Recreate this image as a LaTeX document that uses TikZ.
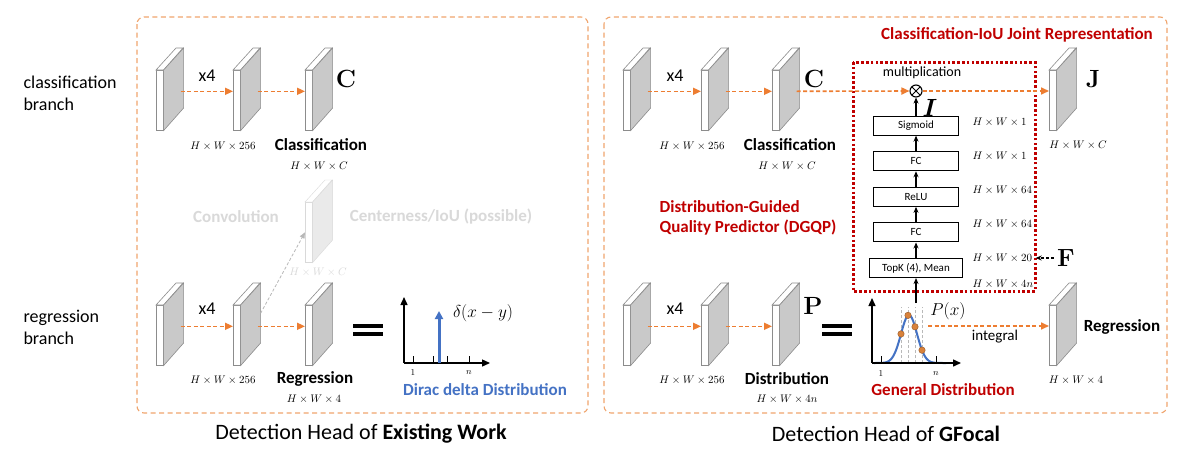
\documentclass[tikz,border=0pt]{standalone}
\usepackage{amsmath}
\usepackage[no-math]{fontspec}
\setmainfont{Carlito}
\usetikzlibrary{arrows.meta, positioning}

\definecolor{boxorange}{HTML}{F0A56E}
\definecolor{arrorange}{HTML}{ED7D31}
\definecolor{dgqpred}{HTML}{C00000}
\definecolor{diracblue}{HTML}{4472C4}
\definecolor{slabgray}{HTML}{C9C9C9}
\definecolor{slabline}{HTML}{8C8C8C}
\definecolor{ghost}{HTML}{D9D9D9}
\definecolor{dotorange}{HTML}{D9823B}

\tikzset{
  fmap/.style={draw=slabline, fill=white, minimum width=7pt, minimum height=60pt, inner sep=0pt, line width=0.6pt},
  slabtop/.style={draw=slabline, fill=white, line width=0.6pt},
  slabside/.style={draw=slabline, fill=slabgray, line width=0.6pt},
  panel/.style={boxorange, line width=1.1pt, dash pattern=on 5pt off 3.5pt, rounded corners=7pt},
  oflow/.style={arrorange, line width=1.6pt, dash pattern=on 4pt off 2.5pt, -{Triangle[length=8pt,width=7pt]}},
  ghostflow/.style={ghost!85!black, line width=0.8pt, dash pattern=on 3pt off 2pt, -{Triangle[length=6pt,width=5pt]}},
  up/.style={line width=1.2pt, -{Stealth[length=6pt,width=5pt]}},
  axis/.style={line width=1.4pt, -{Triangle[length=8pt,width=7pt]}},
  layer/.style={draw, line width=1.1pt, minimum width=85pt, minimum height=19pt, inner sep=0pt, font=\fontsize{11}{13}\selectfont},
  sidelbl/.style={font=\fontsize{18}{22}\selectfont, align=left, anchor=west},
  xlbl/.style={font=\fontsize{18}{22}\selectfont},
  dimlbl/.style={font=\fontsize{10.5}{12}\selectfont},
  headlbl/.style={font=\bfseries\fontsize{17}{20}\selectfont},
  redlbl/.style={headlbl, text=dgqpred, align=left},
  biglbl/.style={font=\fontsize{24}{26}\selectfont},
  ticklbl/.style={font=\fontsize{9}{10}\selectfont},
  titlelbl/.style={font=\fontsize{22}{26}\selectfont}
}

% feature map slab: front face node plus top and side faces
\newcommand{\featmap}[2]{%
  \node[fmap, anchor=north west] (#1) at (#2) {};
  \draw[slabtop] (#1.north west) -- ++(20,-22) -- ++(7,0) -- (#1.north east) -- cycle;
  \draw[slabside] (#1.north east) -- ++(20,-22) -- ++(0,60) -- (#1.south east) -- cycle;
}

\begin{document}
\begin{tikzpicture}[x=1pt, y=-1pt, node distance=15.5pt]
\fill[white] (0,0) rectangle (1190,450);
\useasboundingbox (0,0) rectangle (1190,450);

% panels
\draw[panel] (137,17) rectangle (588,413);
\draw[panel] (604,17) rectangle (1167,413);

\node[sidelbl] (clsbranch) at (20,93) {classification\\branch};
\node[sidelbl] (regbranch) at (20,327) {regression\\branch};

% feature maps
\foreach \nm/\px/\py in {a1/156/70, a2/233/70, a3/305/70, b1/156/305, b2/233/305, b3/305/305,
                         c1/623/70, c2/701/70, c3/772/70, j/1049/70,
                         d1/623/305, d2/701/305, d3/772/305, reg/1049/305}
  {\featmap{\nm}{\px,\py}}
\begin{scope}[fmap/.append style={draw=ghost}, slabtop/.style={draw=ghost, fill=white},
              slabside/.style={draw=ghost, fill=ghost!55}]
  \featmap{g}{305,202}
\end{scope}

\foreach \a/\b in {a1/a2, a2/a3, b1/b2, b2/b3, c1/c2, c2/c3, d1/d2, d2/d3}
  \draw[oflow] ([shift={(17,-9)}]\a.east) -- ([yshift=9pt]\b.west);
\draw[ghostflow] ([shift={(20,-22)}]b2.east) -- (g.west);

% left panel labels
\foreach \nm/\px/\py in {xa/207/76, xb/207/309, xc/675/76, xd/675/309}
  \node[xlbl] (\nm) at (\px,\py) {x4};
\node[biglbl] (clsC) at (346,79) {$\mathbf{C}$};
\node[dimlbl] (dima2) at (223,146) {$H\times W\times 256$};
\node[headlbl] (clshead) at (321,145) {Classification};
\node[dimlbl] (dima3) at (319,166) {$H\times W\times C$};
\node[headlbl, text=ghost] (conv) at (236,217) {Convolution};
\node[headlbl, text=ghost] (ctr) at (441,217) {Centerness/IoU (possible)};
\node[dimlbl, text=ghost] (dimg) at (318,272) {$H\times W\times C$};
\node[dimlbl] (dimb2) at (223,380) {$H\times W\times 256$};
\node[headlbl] (reghead) at (315,379) {Regression};
\node[dimlbl] (dimb3) at (314,399) {$H\times W\times 4$};

% equals signs
\draw[line width=3.5pt] (353,326) -- (383,326) (353,334) -- (383,334);
\draw[line width=3.5pt] (822,326) -- (852,326) (822,334) -- (852,334);

% dirac delta
\coordinate (o1) at (404,363);
\draw[axis] (o1) -- ++(0,-66);
\draw[axis] (o1) -- ++(86,0);
\foreach \t in {413,433,447,469}
  \draw[line width=1pt] (\t,363) -- (\t,356);
\node[ticklbl] (one1) at (413,373) {$1$};
\node[ticklbl] (n1) at (469,373) {$n$};
\draw[diracblue, line width=3pt, -{Triangle[length=8pt,width=8pt]}] (439,363) -- (439,311);
\node[font=\fontsize{19}{21}\selectfont] (delta) at (483,313) {$\delta(x-y)$};
\node[headlbl, text=diracblue] (dirac) at (485,390) {Dirac delta Distribution};

\node[titlelbl] (titleL) at (361,434) {Detection Head of \textbf{Existing Work}};

% right panel
\node[redlbl] (cijr) at (1017,35) {Classification-IoU Joint Representation};
\draw[dgqpred, line width=3pt, dash pattern=on 2.6pt off 2.2pt] (853,62) rectangle (1035,291);
\node[redlbl] (dgqp) at (748,217.5) {Distribution-Guided\\Quality Predictor (DGQP)};

\node[biglbl] (gfC) at (814,79) {$\mathbf{C}$};
\node[biglbl] (gfJ) at (1093,79) {$\mathbf{J}$};
\node[biglbl] (gfP) at (813,306) {$\mathbf{P}$};
\node[dimlbl] (dimc2) at (692,146) {$H\times W\times 256$};
\node[headlbl] (clshead2) at (790,145) {Classification};
\node[dimlbl] (dimc3) at (787,166) {$H\times W\times C$};
\node[dimlbl] (dimj) at (1078,145) {$H\times W\times C$};
\node[dimlbl] (dimd2) at (692,380) {$H\times W\times 256$};
\node[headlbl] (disthead) at (787,379) {Distribution};
\node[dimlbl] (dimd3) at (787,399) {$H\times W\times 4n$};
\node[headlbl] (reghead2) at (1122,327) {Regression};
\node[dimlbl] (dimreg) at (1076,380) {$H\times W\times 4$};

% DGQP stack
\node[circle, draw, line width=1.1pt, minimum size=12pt, inner sep=0pt,
      path picture={\draw[line width=1pt] (path picture bounding box.north west) -- (path picture bounding box.south east)
                    (path picture bounding box.north east) -- (path picture bounding box.south west);}] (mul) at (916,91) {};
\node[font=\fontsize{14}{16}\selectfont] (multxt) at (922,73) {multiplication};
\node[font=\fontsize{24}{26}\selectfont] (iou) at (930,108) {$\boldsymbol{I}$};
\node[layer, minimum width=93pt] (topk) at (916,268) {TopK (4), Mean};
\node[layer, above=of topk] (fc1) {FC};
\node[layer, above=of fc1] (relu) {ReLU};
\node[layer, above=of relu] (fc2) {FC};
\node[layer, above=of fc2] (sig) {Sigmoid};
\foreach \a/\b in {topk/fc1, fc1/relu, relu/fc2, fc2/sig, sig/mul}
  \draw[up] (\a) -- (\b);
\foreach \nm/\py/\val in {1/122/1, 2/156/1, 3/190/64, 4/224/64, 5/258/20, 6/284/4n}
  \node[dimlbl, anchor=west] (dims\nm) at (969,\py) {$H\times W\times \val$};
\node[biglbl] (gfF) at (1066,258) {$\mathbf{F}$};
\draw[line width=1.1pt, dash pattern=on 3pt off 2pt, -{Stealth[length=6pt,width=5pt]}] (gfF) -- (dims5.east);

\draw[oflow] ([shift={(17,-9)}]c3.east) -- (mul.west);
\draw[oflow] (mul.east) -- (mul.east -| j.west);

% general distribution
\coordinate (o2) at (872,363);
\foreach \t in {901,908,915,922}
  \draw[gray!55, line width=0.7pt, dash pattern=on 3pt off 2pt] (\t,363) -- (\t,307);
\draw[diracblue, line width=2pt, smooth, samples=60, domain=874:946]
  plot ({\x},{363-48*exp(-((\x-909)^2)/128)});
\foreach \t in {901,908,915,922}
  \filldraw[fill=dotorange, draw=dotorange!75!black, line width=0.5pt]
    (\t,{363-48*exp(-((\t-909)^2)/128)}) circle (3.2pt);
\draw[axis] (o2) -- ++(0,-65);
\draw[axis] (o2) -- ++(89,0);
\foreach \t in {881,936}
  \draw[line width=1pt] (\t,363) -- (\t,356);
\node[ticklbl] (one2) at (881,374) {$1$};
\node[ticklbl] (n2) at (936,374) {$n$};
\node[font=\fontsize{18}{20}\selectfont] (px) at (948,311) {$P(x)$};
\coordinate (peaktop) at (916,303);
\draw[up] (peaktop) -- (topk.south);
\coordinate (intstart) at (928,326);
\draw[oflow] (intstart) -- (intstart -| reg.west);
\node[font=\fontsize{15}{17}\selectfont] (integral) at (995,337) {integral};
\node[redlbl] (gendist) at (943,390) {General Distribution};

\node[titlelbl] (titleR) at (886,434) {Detection Head of \textbf{GFocal}};
\end{tikzpicture}
\end{document}
